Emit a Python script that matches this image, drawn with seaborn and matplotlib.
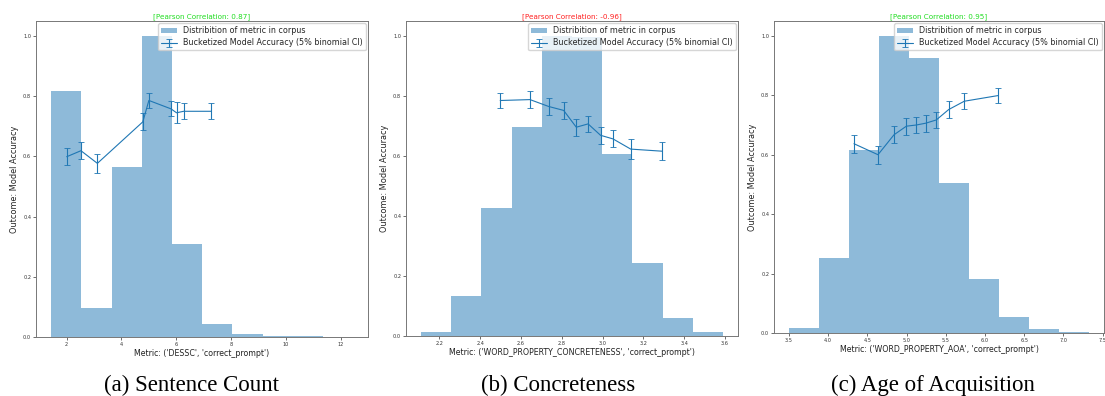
import matplotlib
matplotlib.use("Agg")
import matplotlib.pyplot as plt
import numpy as np
import seaborn as sns

# --- (a) sentence count ---
dessc_edges = [1.43, 2.53, 3.64, 4.74, 5.84, 6.94, 8.05, 9.15, 10.25, 11.35, 12.45]
dessc_hist = [0.819, 0.097, 0.565, 1.0, 0.309, 0.042, 0.011, 0.004, 0.002, 0.0005]
dessc_x = [2.0, 2.52, 3.12, 4.78, 5.0, 5.81, 6.01, 6.27, 7.28]
dessc_acc = [0.599, 0.619, 0.577, 0.715, 0.786, 0.758, 0.745, 0.750, 0.750]
dessc_err = [0.029, 0.028, 0.032, 0.028, 0.025, 0.025, 0.035, 0.026, 0.026]

# --- (b) concreteness ---
conc_edges = [2.11, 2.258, 2.406, 2.554, 2.702, 2.85, 2.998, 3.146, 3.294, 3.442, 3.59]
conc_hist = [0.013, 0.133, 0.427, 0.697, 1.0, 0.995, 0.607, 0.243, 0.061, 0.014]
conc_x = [2.498, 2.644, 2.736, 2.809, 2.871, 2.929, 2.990, 3.051, 3.138, 3.292]
conc_acc = [0.785, 0.788, 0.765, 0.752, 0.696, 0.707, 0.669, 0.657, 0.623, 0.616]
conc_err = [0.025, 0.027, 0.028, 0.027, 0.028, 0.028, 0.028, 0.028, 0.033, 0.030]

# --- (c) age of acquisition ---
aoa_edges = [3.5, 3.883, 4.265, 4.648, 5.031, 5.413, 5.796, 6.179, 6.561, 6.944, 7.327]
aoa_hist = [0.017, 0.254, 0.615, 1.0, 0.925, 0.506, 0.182, 0.053, 0.013, 0.002]
aoa_x = [4.329, 4.635, 4.839, 4.997, 5.124, 5.243, 5.379, 5.537, 5.736, 6.166]
aoa_acc = [0.637, 0.600, 0.667, 0.696, 0.700, 0.706, 0.717, 0.752, 0.780, 0.799]
aoa_err = [0.030, 0.030, 0.029, 0.029, 0.028, 0.028, 0.028, 0.028, 0.027, 0.026]

panels = [
    ("'DESSC'", dessc_edges, dessc_hist, dessc_x, dessc_acc, dessc_err,
     "0.87", "#22dd22", np.arange(2, 13, 2), "(a) Sentence Count"),
    ("'WORD_PROPERTY_CONCRETENESS'", conc_edges, conc_hist, conc_x, conc_acc, conc_err,
     "-0.96", "#ff2020", np.arange(2.2, 3.61, 0.2), "(b) Concreteness"),
    ("'WORD_PROPERTY_AOA'", aoa_edges, aoa_hist, aoa_x, aoa_acc, aoa_err,
     "0.95", "#22dd22", np.arange(3.5, 7.51, 0.5), "(c) Age of Acquisition"),
]

sns.set_style("ticks")
plt.rcParams["font.family"] = ["DejaVu Sans"]

W, H = 1105, 396
fig = plt.figure(figsize=(W / 100, H / 100), dpi=100)

# axes boxes in pixels: left, top, right, bottom
boxes = [(36, 21, 368, 337), (406, 21, 738, 336), (774, 21, 1104, 333)]
caption_x = [191, 558, 933]

for (metric, edges, hist, xs, acc, err, corr, ccol, ticks, caption), box, cx in zip(
        panels, boxes, caption_x):
    l, t, r, b = box
    ax = fig.add_axes([l / W, 1 - b / H, (r - l) / W, (b - t) / H])
    centers = [(edges[i] + edges[i + 1]) / 2 for i in range(len(hist))]
    sns.histplot(x=centers, weights=hist, bins=edges, stat="count", ax=ax,
                 color="C0", alpha=0.5, linewidth=0, edgecolor="none")
    bars = ax.containers[0]
    eb = ax.errorbar(xs, acc, yerr=err, color="C0", lw=0.8, elinewidth=0.8,
                     capsize=2.0, capthick=0.6)
    ax.legend([bars, eb],
              ["Distribition of metric in corpus",
               "Bucketized Model Accuracy (5% binomial CI)"],
              loc="upper right", fontsize=5.8, borderaxespad=0.3,
              handlelength=2.0, labelspacing=0.4, borderpad=0.35,
              handletextpad=0.7, framealpha=0.8, fancybox=True)
    ax.set_xlim(edges[0] - 0.05 * (edges[-1] - edges[0]),
                edges[-1] + 0.05 * (edges[-1] - edges[0]))
    ax.set_ylim(0, 1.05)
    ax.set_xticks(ticks)
    ax.set_yticks(np.arange(0, 1.01, 0.2))
    ax.xaxis.set_major_formatter(matplotlib.ticker.FormatStrFormatter(
        "%d" if ticks[0] == 2 else "%.1f"))
    ax.yaxis.set_major_formatter(matplotlib.ticker.FormatStrFormatter("%.1f"))
    ax.tick_params(labelsize=3.6, length=2, width=0.5, pad=1.5, colors="#333333")
    for s in ax.spines.values():
        s.set_color("#777777")
        s.set_linewidth(0.7)
    ax.set_xlabel(f"Metric: ({metric}, 'correct_prompt')", fontsize=5.7,
                  labelpad=1.5, color="#222222")
    ax.set_ylabel("Outcome: Model Accuracy", fontsize=5.9, labelpad=3,
                  color="#222222")
    ax.set_title(f"[Pearson Correlation: {corr}]", fontsize=5.2, color=ccol, pad=2)
    fig.text(cx / W, 1 - 391 / H, caption, ha="center", va="baseline",
             fontsize=16.5, family="Liberation Serif", color="black")

fig.savefig("out.png", dpi=100)
